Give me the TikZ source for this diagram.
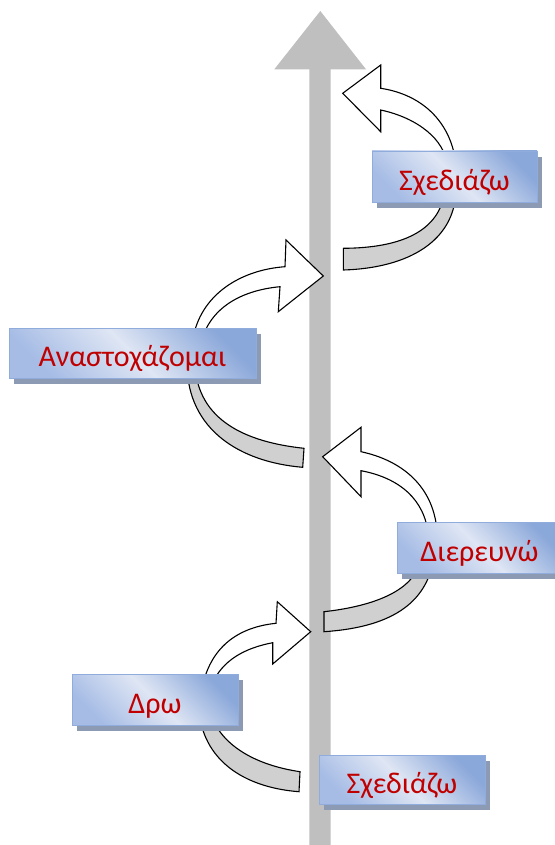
\documentclass[tikz,border=0pt]{standalone}
\usepackage{fontspec}
\setmainfont{Carlito}
\usetikzlibrary{shadows}
\definecolor{shaftgray}{HTML}{BFBFBF}
\definecolor{ribgray}{HTML}{D0D0D0}
\definecolor{boxdark}{HTML}{8BA8DA}
\definecolor{boxdark2}{HTML}{A6BCE5}
\definecolor{boxlight}{HTML}{DFE6F4}
\definecolor{boxborder}{HTML}{8FACDC}
\definecolor{shadowcol}{HTML}{8C9AB3}
\definecolor{txtred}{HTML}{C00000}
\begin{document}
\begin{tikzpicture}[x=1pt,y=-1pt,
  ribwhite/.style={fill=white,draw=black,line width=1.1pt,line join=miter},
  ribgrey/.style={fill=ribgray,draw=black,line width=1.1pt,line join=miter},
  stagebox/.style={draw=boxborder,line width=0.8pt,top color=boxdark,bottom color=boxdark2,middle color=boxlight,shading angle=-45,
    inner sep=0pt,font=\fontsize{30}{36}\selectfont,text=txtred,text height=27pt,text depth=0pt,
    drop shadow={shadow xshift=4.5pt,shadow yshift=-6pt,fill=shadowcol,opacity=1}},
]
\useasboundingbox (0,0) rectangle (554,845);
% main shaft arrow
\fill[shaftgray] (309.3,846) -- (309.3,69.3) -- (274.3,69.3) -- (320.3,11) -- (366,69.3) -- (330.7,69.3) -- (330.7,846) -- cycle;

% ribbons of box 1 (top right)
\path[ribwhite] (380.7,110) -- (380.7,131.7) -- (342.7,93.3) -- (380.7,65) -- (380.7,88.3)
  .. controls (425,95) and (452,125) .. (456,165) -- (447,165)
  .. controls (445,140) and (418,118) .. cycle;
\path[ribgrey] (445,190) .. controls (440,232) and (400,248) .. (343.3,248.3) -- (343.3,270)
  .. controls (410,268) and (455,240) .. (456,190) -- cycle;

% ribbons of box 2 (left)
\path[ribwhite] (280,286.7) -- (278.3,311.7) -- (323.3,276) -- (286,240) -- (285,266.7)
  .. controls (240,270) and (200,295) .. (192.7,340) -- (201.7,340)
  .. controls (212,305) and (245,290) .. cycle;
\path[ribgrey] (187,365) .. controls (188,430) and (240,462) .. (302.7,467.3) -- (304,448.3)
  .. controls (245,442) and (198,420) .. (195,365) -- cycle;

% ribbons of box 3 (right)
\path[ribwhite] (361,470.7) -- (361,496.7) -- (322.7,456.7) -- (361,427.3) -- (361,451.7)
  .. controls (400,460) and (435,485) .. (437.3,535) -- (428.3,535)
  .. controls (425,500) and (400,478) .. cycle;
\path[ribgrey] (433.3,560) .. controls (425,610) and (380,628) .. (324,631.7) -- (324,611.7)
  .. controls (375,606) and (415,590) .. (420,560) -- cycle;

% ribbons of box 4 (bottom left)
\path[ribwhite] (272.7,642.7) -- (272.7,664) -- (310.7,631.7) -- (277.3,601.7) -- (276,623.3)
  .. controls (240,627) and (212,645) .. (202.7,685) -- (211.7,685)
  .. controls (222,660) and (245,648) .. cycle;
\path[ribgrey] (199,712) .. controls (205,765) and (250,788) .. (299,791.7) -- (300,771.7)
  .. controls (255,765) and (220,745) .. (210,712) -- cycle;

% boxes
\node[stagebox,minimum width=165pt,minimum height=51pt] (b1) at (454.5,176.5) {Σχεδιάζω};
\node[stagebox,minimum width=247pt,minimum height=50pt] (b2) at (132.5,353) {Αναστοχάζομαι};
\node[stagebox,minimum width=165pt,minimum height=51pt] (b3) at (479.5,547.5) {Διερευνώ};
\node[stagebox,minimum width=166pt,minimum height=51pt] (b4) at (155,699.5) {Δρω};
\node[stagebox,minimum width=166pt,minimum height=49pt] (b5) at (402,779.5) {Σχεδιάζω};
\end{tikzpicture}
\end{document}
